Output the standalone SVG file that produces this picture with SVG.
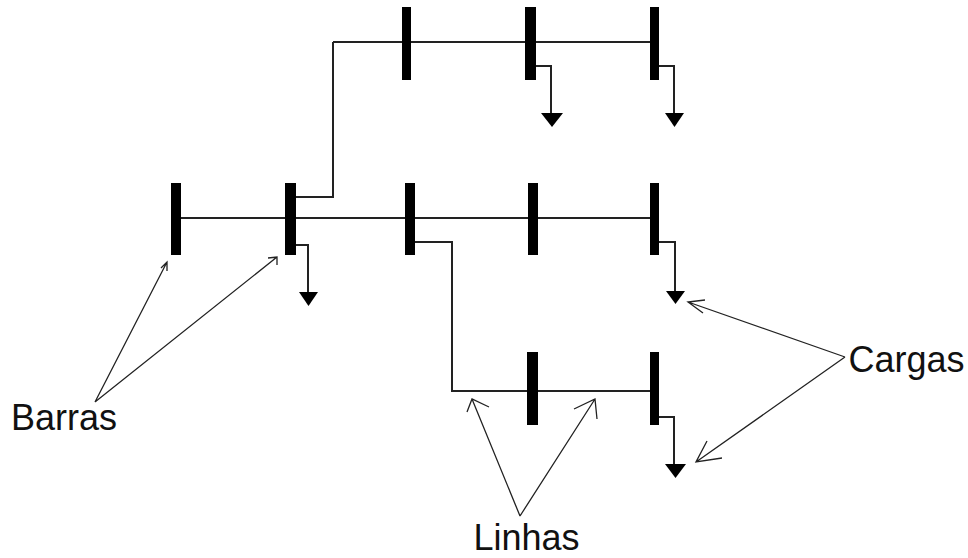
<svg xmlns="http://www.w3.org/2000/svg" width="968" height="558" viewBox="0 0 968 558">
<style>
.w{fill:none;stroke:#222;stroke-width:2}
.a{fill:none;stroke:#222;stroke-width:1.3}
.b{fill:#000}
.t{font-family:"Liberation Sans",Arial,sans-serif;font-size:36px;fill:#111}
</style>
<rect width="968" height="558" fill="#fff"/>
<g id="connectors">
<path class="w" d="M333 42H650M296 197H333V42M181 218H650M415 242H452V391H650"/>
<path class="w" d="M296 245H308V293M535 66H551V114M659 66H674V114M659 242H675V292M659 417H674V465"/>
<path class="a" d="M95 402L167 262M161 268L167 262L167 271M95 402L277 257M268 258L277 257L277 265"/>
<path class="a" d="M520 516L472 399M467 412L472 399L489 407M520 516L595 399M574 409L595 399L597 419"/>
<path class="a" d="M845 357L688 302M705 300L688 302L703 313M845 357L696 462M707 441L696 462L722 458"/>
</g>
<g id="bar-top-1"><rect class="b" x="402" y="7" width="9" height="73"/></g>
<g id="bar-top-2"><rect class="b" x="525" y="7" width="11" height="73"/></g>
<g id="bar-top-3"><rect class="b" x="650" y="7" width="9" height="73"/></g>
<g id="bar-mid-1"><rect class="b" x="171" y="183" width="10" height="72"/></g>
<g id="bar-mid-2"><rect class="b" x="285" y="183" width="11" height="72"/></g>
<g id="bar-mid-3"><rect class="b" x="405" y="183" width="10" height="72"/></g>
<g id="bar-mid-4"><rect class="b" x="528" y="183" width="10" height="72"/></g>
<g id="bar-mid-5"><rect class="b" x="650" y="183" width="9" height="72"/></g>
<g id="bar-low-1"><rect class="b" x="527" y="352" width="11" height="73"/></g>
<g id="bar-low-2"><rect class="b" x="650" y="352" width="9" height="73"/></g>
<g id="load-1"><path class="b" d="M299 292H318L308.500 306Z"/></g>
<g id="load-2"><path class="b" d="M541 113H563L552 127Z"/></g>
<g id="load-3"><path class="b" d="M665 113H684L674.500 127Z"/></g>
<g id="load-4"><path class="b" d="M666 291H685L675.500 304Z"/></g>
<g id="load-5"><path class="b" d="M665 464H686L675.500 478Z"/></g>
<g id="label-barras"><text class="t" x="11" y="430">Barras</text></g>
<g id="label-linhas"><text class="t" x="473.500" y="550">Linhas</text></g>
<g id="label-cargas"><text class="t" x="848.500" y="372">Cargas</text></g>
</svg>
